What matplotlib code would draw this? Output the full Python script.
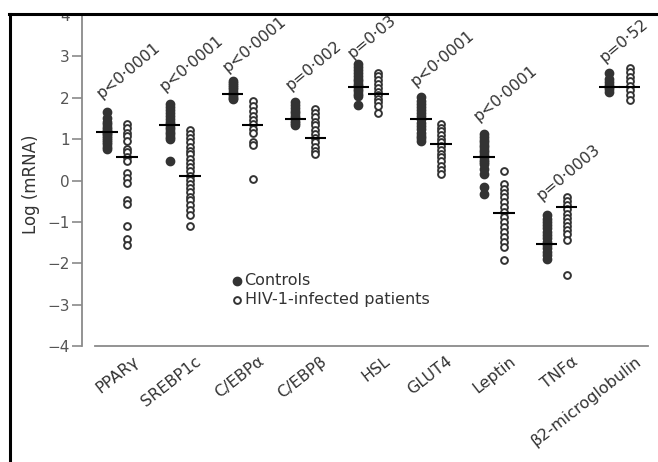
import matplotlib
matplotlib.use("Agg")
import matplotlib.pyplot as plt
from matplotlib.lines import Line2D
from matplotlib.patches import Rectangle

genes = ["PPARγ", "SREBP1c", "C/EBPα", "C/EBPβ", "HSL", "GLUT4", "Leptin",
         "TNFα", "β2-microglobulin"]

# log mRNA, one list per group
controls = [
    [1.65, 1.5, 1.42, 1.36, 1.3, 1.25, 1.2, 1.16, 1.12, 1.08, 1.03, 0.98, 0.93, 0.88, 0.82, 0.77],
    [1.85, 1.78, 1.7, 1.62, 1.55, 1.48, 1.42, 1.36, 1.3, 1.24, 1.18, 1.12, 1.06, 1.0, 0.48],
    [2.41, 2.35, 2.3, 2.25, 2.2, 2.15, 2.1, 2.05, 2.0, 1.97],
    [1.89, 1.82, 1.75, 1.68, 1.62, 1.56, 1.5, 1.45, 1.4, 1.35],
    [2.81, 2.74, 2.67, 2.6, 2.53, 2.46, 2.4, 2.34, 2.28, 2.22, 2.16, 2.1, 2.05, 1.83],
    [2.01, 1.93, 1.85, 1.77, 1.7, 1.62, 1.55, 1.48, 1.4, 1.32, 1.24, 1.16, 1.08, 1.02, 0.96],
    [1.12, 1.05, 0.98, 0.92, 0.86, 0.8, 0.74, 0.68, 0.62, 0.56, 0.5, 0.45, 0.4, 0.28, 0.16, -0.16, -0.32],
    [-0.84, -0.92, -1.0, -1.08, -1.16, -1.24, -1.32, -1.4, -1.48, -1.56, -1.64, -1.72, -1.8, -1.89],
    [2.61, 2.45, 2.38, 2.32, 2.26, 2.2, 2.13],
]
patients = [
    [1.37, 1.27, 1.16, 1.07, 0.96, 0.76, 0.68, 0.56, 0.48, 0.18, 0.06, -0.07, -0.48, -0.56, -1.11, -1.41, -1.57],
    [1.22, 1.12, 1.03, 0.92, 0.82, 0.72, 0.63, 0.52, 0.42, 0.32, 0.22, 0.12, 0.02, -0.08, -0.18,
     -0.28, -0.39, -0.48, -0.6, -0.72, -0.84, -1.11],
    [1.93, 1.81, 1.69, 1.57, 1.46, 1.37, 1.25, 1.16, 0.92, 0.86, 0.04],
    [1.73, 1.62, 1.53, 1.42, 1.33, 1.22, 1.12, 1.03, 0.92, 0.82, 0.72, 0.64],
    [2.61, 2.52, 2.42, 2.33, 2.24, 2.15, 2.06, 1.98, 1.9, 1.81, 1.62],
    [1.37, 1.28, 1.19, 1.1, 1.01, 0.92, 0.83, 0.74, 0.65, 0.56, 0.46, 0.36, 0.26, 0.16],
    [0.24, -0.08, -0.2, -0.31, -0.4, -0.52, -0.64, -0.76, -0.88, -1.0, -1.12, -1.24, -1.37,
     -1.49, -1.61, -1.93],
    [-0.4, -0.5, -0.6, -0.7, -0.8, -0.9, -1.0, -1.1, -1.2, -1.3, -1.45, -2.29],
    [2.73, 2.62, 2.51, 2.4, 2.29, 2.18, 2.07, 1.94],
]
ctrl_mean = [1.18, 1.35, 2.1, 1.48, 2.25, 1.49, 0.58, -1.54, 2.27]
pat_mean = [0.57, 0.10, 1.35, 1.03, 2.10, 0.88, -0.79, -0.63, 2.27]

p_text = ["p<0·0001", "p<0·0001", "p<0·0001", "p=0·002", "p=0·03", "p<0·0001",
          "p<0·0001", "p=0·0003", "p=0·52"]
p_y = [1.93, 2.1, 2.55, 2.12, 2.88, 2.2, 1.37, -0.55, 2.8]

ink = "#333333"
grey = "#8a8a8a"
off = 0.16

fig = plt.figure(figsize=(6.58, 4.62), dpi=100)
ax = fig.add_axes([0.1246, 0.2511, 0.8647, 0.7164])

for i in range(len(genes)):
    xc = [i - off] * len(controls[i])
    xp = [i + off] * len(patients[i])
    h1 = ax.scatter(xc, controls[i], s=36, color=ink, edgecolors=ink, zorder=3)
    h2 = ax.scatter(xp, patients[i], s=24, facecolors="white", edgecolors=ink,
                    linewidths=1.4, zorder=3)
    ax.hlines(ctrl_mean[i], i - off - 0.17, i - off + 0.17, color="black", lw=1.5, zorder=4)
    ax.hlines(pat_mean[i], i + off - 0.17, i + off + 0.17, color="black", lw=1.5, zorder=4)
    ax.text(i - 0.21, p_y[i], p_text[i], rotation=40, rotation_mode="anchor",
            ha="left", va="bottom", fontsize=11.3, color=ink)
    ax.text(i + 0.24, -4.18, genes[i], rotation=38, rotation_mode="anchor",
            ha="right", va="top", fontsize=11.5, color=ink)

ax.set_xlim(-0.557, 8.5)
ax.set_ylim(-4, 4)
ax.set_xticks([])
ax.set_yticks(range(-4, 5))
ax.set_yticklabels(["−4", "−3", "−2", "−1", "0", "1", "2", "3", "4"])
ax.tick_params(axis="y", length=7, width=1.2, color=grey, labelcolor="#555555",
               labelsize=11, pad=2)
for s in ["top", "right"]:
    ax.spines[s].set_visible(False)
ax.spines["left"].set_color(grey)
ax.spines["left"].set_linewidth(1.3)
ax.spines["bottom"].set_color(grey)
ax.spines["bottom"].set_linewidth(1.3)
ax.spines["bottom"].set_bounds(-0.35, 8.45)
ax.set_ylabel("Log (mRNA)", fontsize=12, color=ink)
ax.yaxis.set_label_coords(-0.074, 0.49)

ax.legend([h1, h2], ["Controls", "HIV-1-infected patients"], loc="upper left",
          bbox_to_anchor=(0.252, 0.245), frameon=False, borderpad=0,
          handlelength=0.5, handletextpad=0.2, labelspacing=0.25, fontsize=11.5,
          labelcolor=ink)

# scan frame: thick black left and top rules, blank strip above
fig.add_artist(Rectangle((0, 1 - 13 / 462), 1, 13 / 462, transform=fig.transFigure,
                         facecolor="white", edgecolor="none", zorder=9))
fig.add_artist(Line2D([9.5 / 658, 9.5 / 658], [0, 1 - 14 / 462], transform=fig.transFigure,
                      color="black", lw=2.2, zorder=10))
fig.add_artist(Line2D([8.5 / 658, 1], [1 - 14 / 462, 1 - 14 / 462], transform=fig.transFigure,
                      color="black", lw=2.2, zorder=10))

fig.savefig("out.png", dpi=100)
